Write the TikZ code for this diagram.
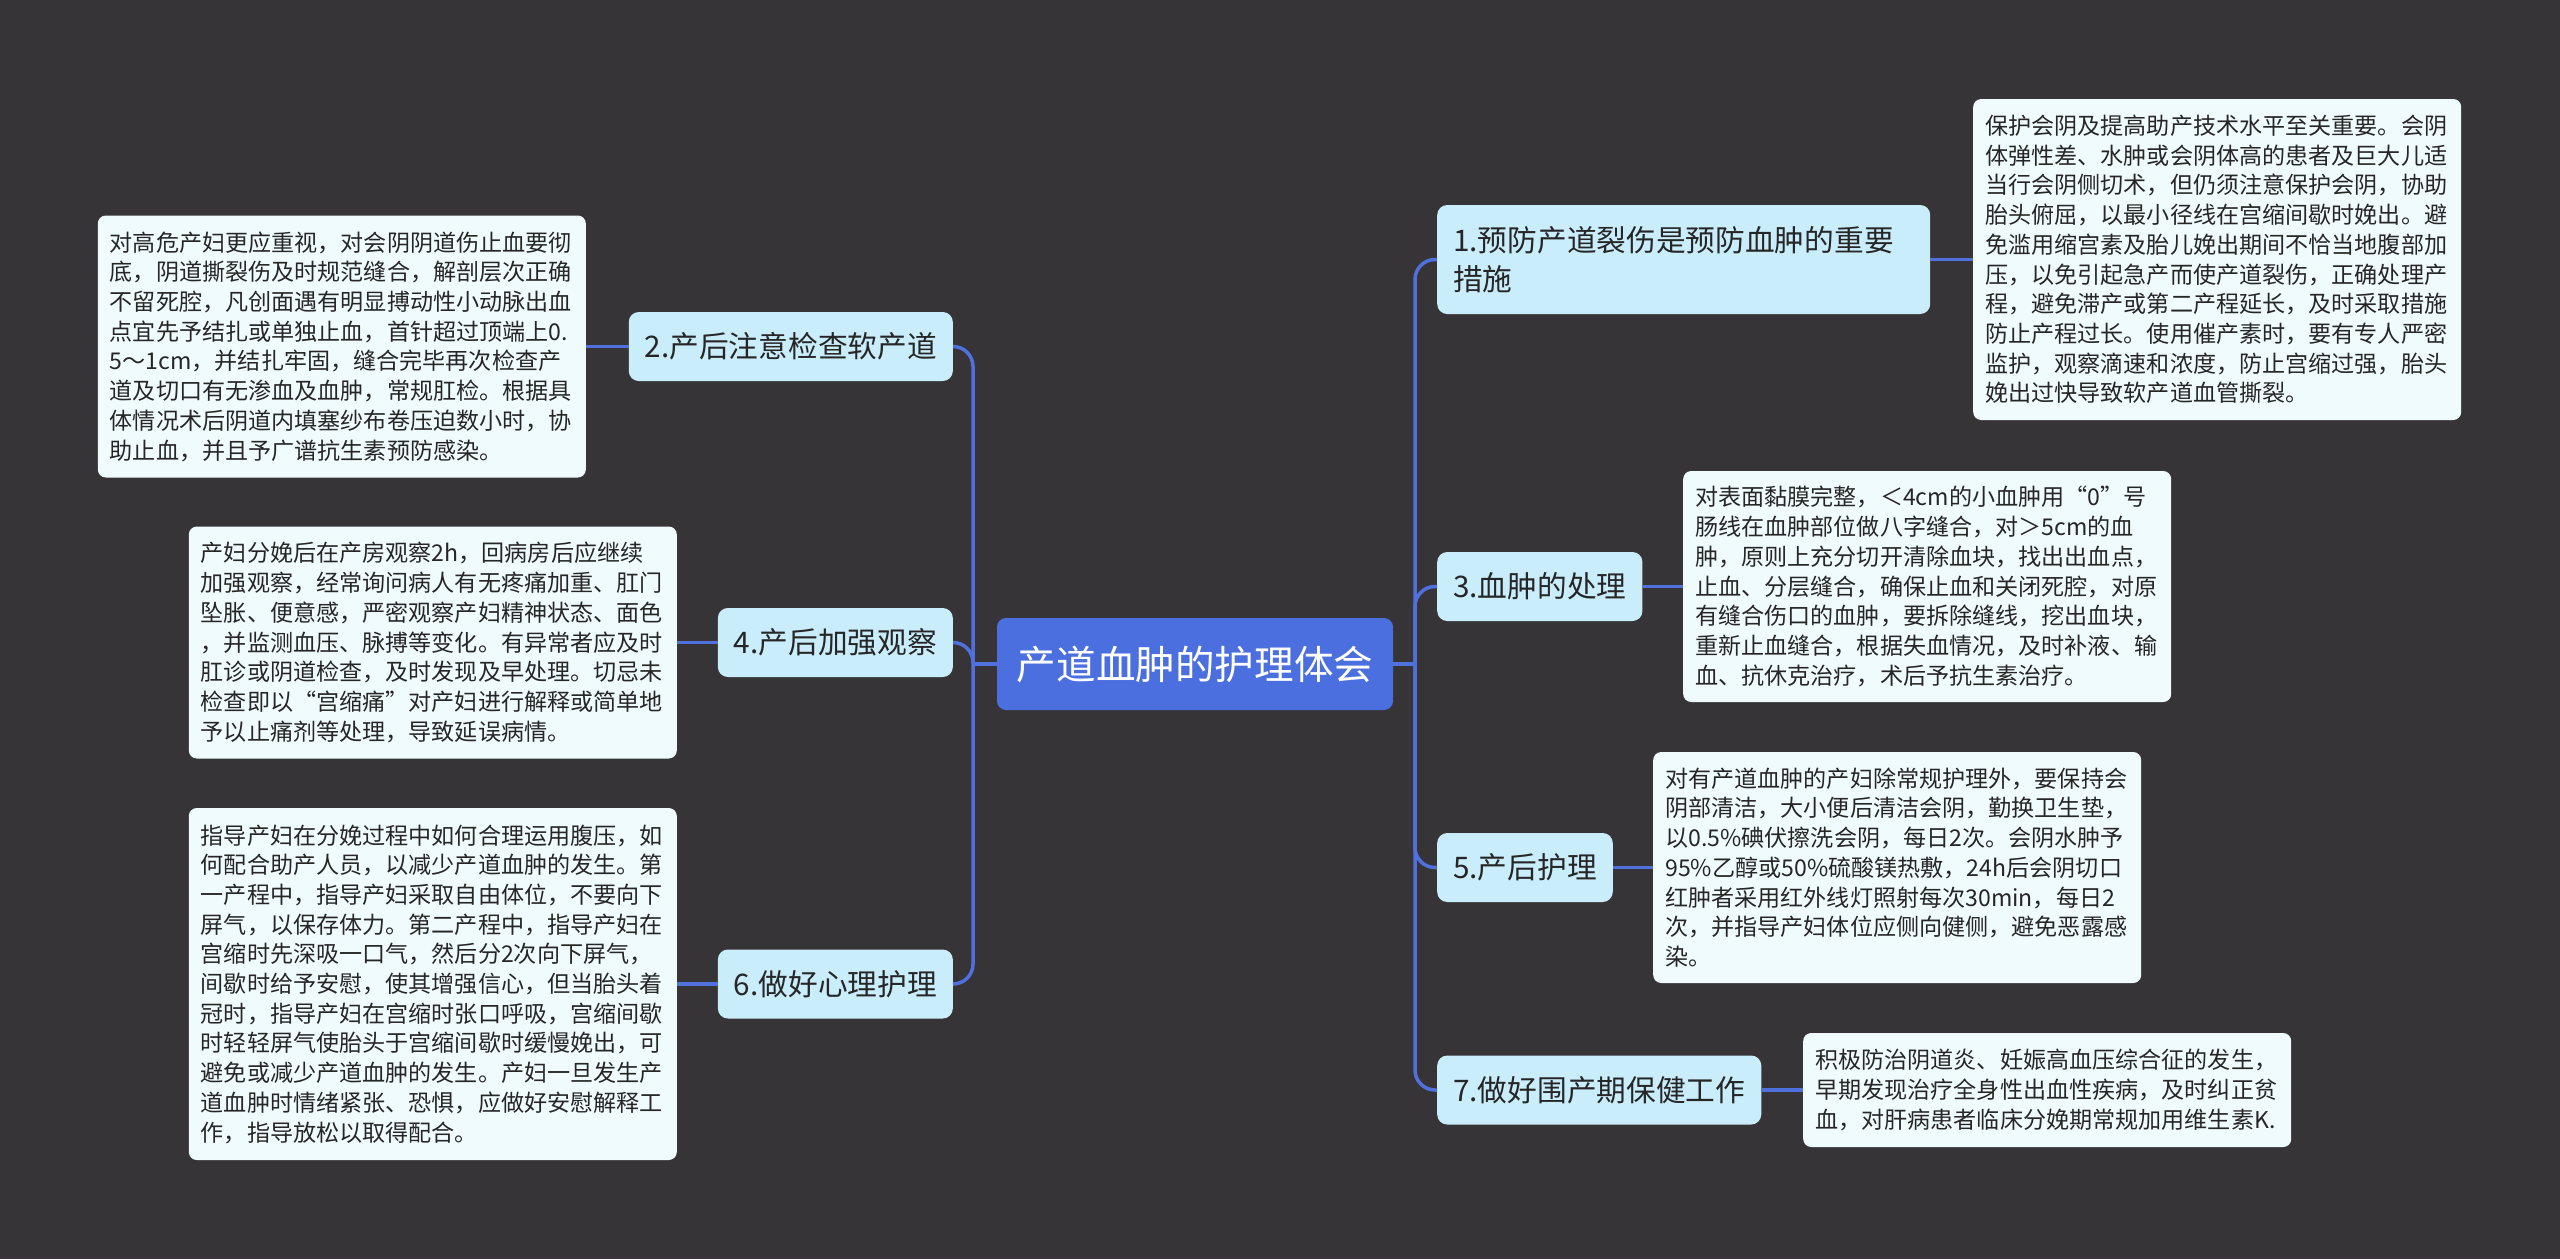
\documentclass[tikz,border=0pt]{standalone}
\usepackage{fontspec}
\setmainfont{Noto Sans CJK SC}
\definecolor{bgcol}{RGB}{54,52,54}
\definecolor{maincol}{RGB}{75,111,222}
\definecolor{linecol}{RGB}{80,112,222}
\definecolor{branchcol}{RGB}{202,237,252}
\definecolor{leafcol}{RGB}{240,251,253}
\definecolor{txtcol}{RGB}{38,38,38}
\begin{document}
\begin{tikzpicture}[x=1pt,y=-1pt,
  rootbox/.style={fill=maincol,rounded corners=9,text=white,minimum width=396,minimum height=92,inner sep=0pt,font=\fontsize{39.6}{46}\selectfont},
  branchbox/.style={fill=branchcol,rounded corners=10,text=txtcol,minimum height=69,inner xsep=16,inner ysep=0pt,font=\fontsize{29.7}{39}\selectfont},
  leafbox/.style={fill=leafcol,rounded corners=8,text=txtcol,text width=464,align=left,inner xsep=12,inner ysep=0pt,font=\fontsize{23.1}{29.7}\selectfont},
  conn/.style={draw=linecol,line width=3.5pt},
  bconn/.style={conn,rounded corners=20}]
\fill[bgcol] (0,0) rectangle (2560,1259);
\useasboundingbox (0,0) rectangle (2560,1259);

\node[rootbox] (c) at (1195,664) {产道血肿的护理体会};

% right branches
\node[branchbox,anchor=west,text width=461,align=left,minimum height=109] (b1) at (1437,259.5) {1.预防产道裂伤是预防血肿的重要\\措施};
\node[branchbox,anchor=west] (b3) at (1437,586.5) {3.血肿的处理};
\node[branchbox,anchor=west] (b5) at (1437,867.5) {5.产后护理};
\node[branchbox,anchor=west] (b7) at (1437,1090) {7.做好围产期保健工作};
% left branches
\node[branchbox,anchor=east] (b2) at (953,346.5) {2.产后注意检查软产道};
\node[branchbox,anchor=east] (b4) at (953,642.5) {4.产后加强观察};
\node[branchbox,anchor=east] (b6) at (953,984) {6.做好心理护理};

% leaves
\node[leafbox,anchor=west,minimum height=321] (l1) at (1973,259.5) {保护会阴及提高助产技术水平至关重要。会阴\\%
体弹性差、水肿或会阴体高的患者及巨大儿适\\%
当行会阴侧切术，但仍须注意保护会阴，协助\\%
胎头俯屈，以最小径线在宫缩间歇时娩出。避\\%
免滥用缩宫素及胎儿娩出期间不恰当地腹部加\\%
压，以免引起急产而使产道裂伤，正确处理产\\%
程，避免滞产或第二产程延长，及时采取措施\\%
防止产程过长。使用催产素时，要有专人严密\\%
监护，观察滴速和浓度，防止宫缩过强，胎头\\%
娩出过快导致软产道血管撕裂。};

\node[leafbox,anchor=west,minimum height=231] (l3) at (1683,586.5) {对表面黏膜完整，＜4cm的小血肿用“0”号\\%
肠线在血肿部位做八字缝合，对＞5cm的血\\%
肿，原则上充分切开清除血块，找出出血点，\\%
止血、分层缝合，确保止血和关闭死腔，对原\\%
有缝合伤口的血肿，要拆除缝线，挖出血块，\\%
重新止血缝合，根据失血情况，及时补液、输\\%
血、抗休克治疗，术后予抗生素治疗。};

\node[leafbox,anchor=west,minimum height=231] (l5) at (1653,867.5) {对有产道血肿的产妇除常规护理外，要保持会\\%
阴部清洁，大小便后清洁会阴，勤换卫生垫，\\%
以0.5\%碘伏擦洗会阴，每日2次。会阴水肿予\\%
95\%乙醇或50\%硫酸镁热敷，24h后会阴切口\\%
红肿者采用红外线灯照射每次30min，每日2\\%
次，并指导产妇体位应侧向健侧，避免恶露感\\%
染。};

\node[leafbox,anchor=west,minimum height=114] (l7) at (1803,1090) {积极防治阴道炎、妊娠高血压综合征的发生，\\%
早期发现治疗全身性出血性疾病，及时纠正贫\\%
血，对肝病患者临床分娩期常规加用维生素K.};

\node[leafbox,anchor=east,minimum height=262] (l2) at (586,346.5) {对高危产妇更应重视，对会阴阴道伤止血要彻\\%
底，阴道撕裂伤及时规范缝合，解剖层次正确\\%
不留死腔，凡创面遇有明显搏动性小动脉出血\\%
点宜先予结扎或单独止血，首针超过顶端上0.\\%
5～1cm，并结扎牢固，缝合完毕再次检查产\\%
道及切口有无渗血及血肿，常规肛检。根据具\\%
体情况术后阴道内填塞纱布卷压迫数小时，协\\%
助止血，并且予广谱抗生素预防感染。};

\node[leafbox,anchor=east,minimum height=232] (l4) at (677,642.5) {产妇分娩后在产房观察2h，回病房后应继续\\%
加强观察，经常询问病人有无疼痛加重、肛门\\%
坠胀、便意感，严密观察产妇精神状态、面色\\%
，并监测血压、脉搏等变化。有异常者应及时\\%
肛诊或阴道检查，及时发现及早处理。切忌未\\%
检查即以“宫缩痛”对产妇进行解释或简单地\\%
予以止痛剂等处理，导致延误病情。};

\node[leafbox,anchor=east,minimum height=352] (l6) at (677,984) {指导产妇在分娩过程中如何合理运用腹压，如\\%
何配合助产人员，以减少产道血肿的发生。第\\%
一产程中，指导产妇采取自由体位，不要向下\\%
屏气，以保存体力。第二产程中，指导产妇在\\%
宫缩时先深吸一口气，然后分2次向下屏气，\\%
间歇时给予安慰，使其增强信心，但当胎头着\\%
冠时，指导产妇在宫缩时张口呼吸，宫缩间歇\\%
时轻轻屏气使胎头于宫缩间歇时缓慢娩出，可\\%
避免或减少产道血肿的发生。产妇一旦发生产\\%
道血肿时情绪紧张、恐惧，应做好安慰解释工\\%
作，指导放松以取得配合。};

% connectors
\coordinate (rs) at (1415,664);
\coordinate (ls) at (973,664);
\draw[conn] (c.east) -- (rs);
\draw[conn] (c.west) -- (ls);
\draw[bconn] (rs) |- (b1.west);
\draw[bconn] (rs) |- (b3.west);
\draw[bconn] (rs) |- (b5.west);
\draw[bconn] (rs) |- (b7.west);
\draw[bconn] (ls) |- (b2.east);
\draw[bconn] (ls) |- (b4.east);
\draw[bconn] (ls) |- (b6.east);
\draw[conn] (b1.east) -- (l1.west);
\draw[conn] (b3.east) -- (l3.west);
\draw[conn] (b5.east) -- (l5.west);
\draw[conn] (b7.east) -- (l7.west);
\draw[conn] (b2.west) -- (l2.east);
\draw[conn] (b4.west) -- (l4.east);
\draw[conn] (b6.west) -- (l6.east);
\end{tikzpicture}
\end{document}
